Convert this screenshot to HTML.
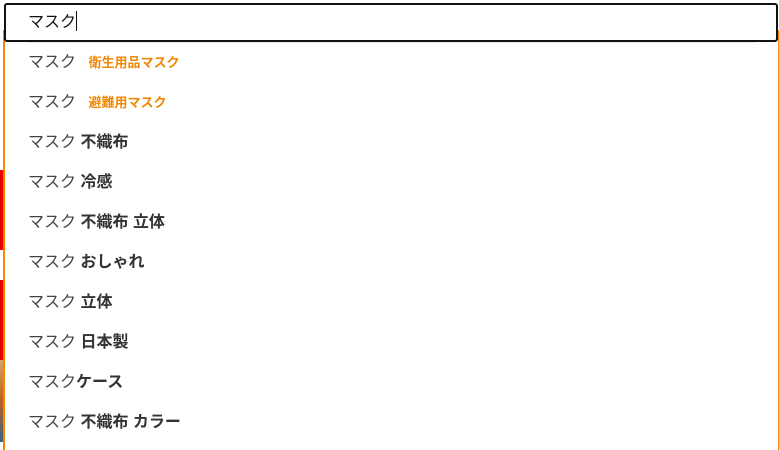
<!DOCTYPE html>
<html><head><meta charset="utf-8"><style>
body{margin:0;width:779px;height:442px;overflow:hidden;background:#fff;font-family:"Liberation Sans","Noto Sans CJK JP",sans-serif;position:relative}
.strip{position:absolute;left:0;top:160px;width:3px;height:282px;background:#fff}
.dd{position:absolute;left:3px;top:30px;width:773px;height:420px;border-left:2px solid #f08804;border-right:2px solid #f08804}
.inp{position:absolute;left:4px;top:3px;height:35px;border:2px solid #111;border-radius:3px;background:#fff;font-size:16px;line-height:36px;padding-left:22px;box-sizing:content-box;width:748px;color:#111}
.cur{display:inline-block;width:1px;height:20px;background:#111;vertical-align:-4px}
.sep{position:absolute;left:28px;top:42px;width:727px;height:1px;background:#e7e7e7}
.row{position:absolute;left:28px;font-size:16px;color:#444;line-height:20px}
.row b{color:#333;font-weight:bold}
.row .t{color:#f08804;font-weight:bold;font-size:13px;margin-left:8px}
</style></head><body>
<div class="strip" style="background:linear-gradient(#fff 0,#fff 10px,#e00 10px,#e00 90px,#fff 90px,#fff 120px,#e00 120px,#e00 200px,#d9a060 200px,#c0601a 240px,#3a6080 282px)"></div>
<div class="dd"></div>
<div class="inp">マスク<span class="cur"></span></div>
<div class="sep"></div>
<div class="row" style="top:53px">マスク <span class="t">衛生用品マスク</span></div>
<div class="row" style="top:93px">マスク <span class="t">避難用マスク</span></div>
<div class="row" style="top:133px">マスク <b>不織布</b></div>
<div class="row" style="top:173px">マスク <b>冷感</b></div>
<div class="row" style="top:213px">マスク <b>不織布 立体</b></div>
<div class="row" style="top:253px">マスク <b>おしゃれ</b></div>
<div class="row" style="top:293px">マスク <b>立体</b></div>
<div class="row" style="top:333px">マスク <b>日本製</b></div>
<div class="row" style="top:373px">マスク<b>ケース</b></div>
<div class="row" style="top:413px">マスク <b>不織布 カラー</b></div>
</body></html>
